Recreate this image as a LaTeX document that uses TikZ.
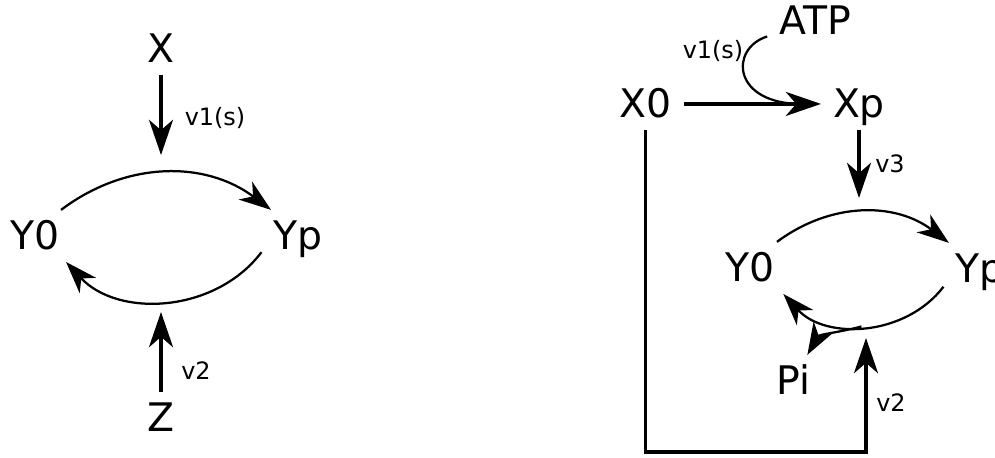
\documentclass[tikz,border=0pt]{standalone}
\usepackage{fontspec}
\setmainfont{DejaVu Sans}
\usetikzlibrary{arrows.meta}

\tikzset{
  species/.style={font=\fontsize{28}{34}\selectfont, anchor=base, inner sep=0pt,
    outer sep=0.3cm, text height=20pt, text depth=0pt},
  rate/.style={font=\fontsize{17}{20}\selectfont, anchor=base, inner sep=0pt},
  flux/.style={line width=2.4pt, -{Stealth[length=0.88cm, width=0.6cm, inset=0.26cm]}},
  cycle/.style={line width=1.6pt, -{Stealth[length=0.8cm, width=0.56cm, inset=0.24cm]}},
}

\begin{document}
\begin{tikzpicture}[x=0.025cm, y=0.025cm]
  \useasboundingbox (0,0) rectangle (995,-458);

  % left: simple cycle
  \node[species] (X)  at (161,-63)  {X};
  \node[species] (Y0) at (35,-250)  {Y0};
  \node[species] (Yp) at (298,-250) {Yp};
  \node[species] (Z)  at (161,-432) {Z};
  \node[rate] (v1) at (215,-126) {v1(s)};
  \node[rate] (v2) at (196,-380) {v2};
  \coordinate (v1tip) at (161,-155);
  \coordinate (v2tip) at (161,-312);

  \draw[flux] (X.south) -- (v1tip);
  \draw[flux] (Z.north) -- (v2tip);
  \draw[cycle] (Y0.45) to[bend left=37] (Yp.136);
  \draw[cycle] (Yp.-156) to[bend left=50] (Y0.-40);

  % right: cascade with ATP and Pi
  \node[species] (ATP) at (815,-35)  {ATP};
  \node[species] (X0)  at (645.5,-118) {X0};
  \node[species] (Xp)  at (859,-118) {Xp};
  \node[species] (Y0r) at (750,-282) {Y0};
  \node[species] (Ypr) at (980,-283) {Yp};
  \node[species] (Pi)  at (793.5,-395) {Pi};
  \node[rate] (v1r) at (713,-59)  {v1(s)};
  \node[rate] (v3)  at (890,-173) {v3};
  \node[rate] (v2r) at (891,-412) {v2};
  \coordinate (xpin)   at (802,-104);
  \coordinate (v3tip)  at (859,-198);
  \coordinate (v2foot) at (866,-452);
  \coordinate (v2tipr) at (866,-338);

  \draw[flux] (X0.east) -- (Xp.west);
  \draw[cycle, -] (ATP.198) .. controls +(-38,-12) and +(-70,0) .. (xpin);
  \draw[flux] (Xp.south) -- (v3tip);
  \draw[cycle] (Y0r.44) to[bend left=37] (Ypr.140);
  \draw[cycle] (Ypr.-154) to[bend left=50] coordinate[pos=0.52] (pibr) (Y0r.-38);
  \draw[cycle] (pibr) to[out=195, in=60] (Pi.62);
  \draw[flux, line join=miter] (X0.south) |- (v2foot) -- (v2tipr);
\end{tikzpicture}
\end{document}
